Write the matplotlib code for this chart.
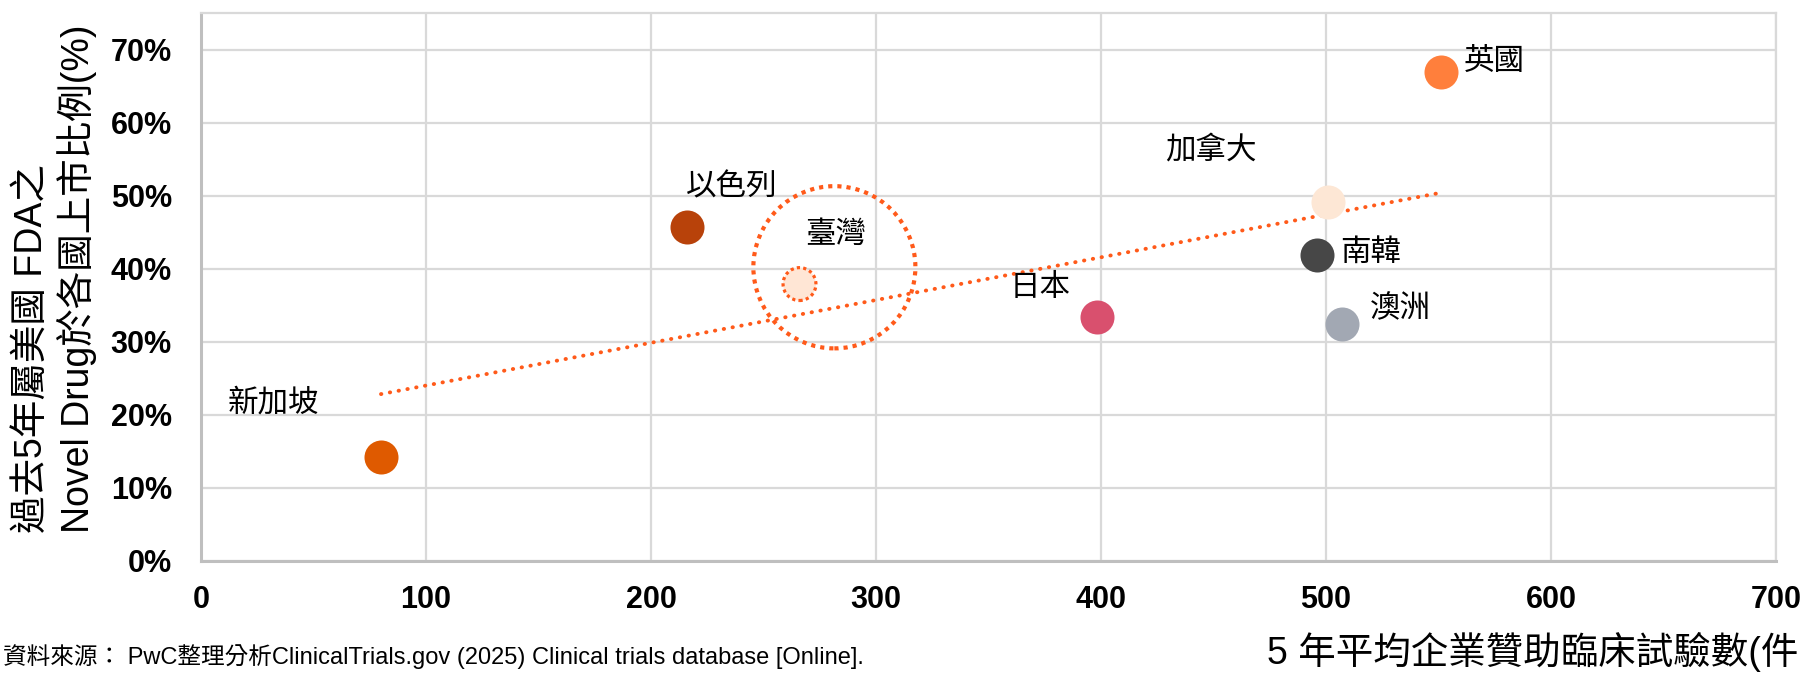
import numpy as np
import matplotlib.pyplot as plt
from matplotlib.patches import Ellipse
from matplotlib.ticker import FuncFormatter

# 資料：5年平均企業贊助臨床試驗數 vs Novel Drug 上市比例
countries = ['新加坡', '以色列', '臺灣', '日本', '加拿大', '南韓', '澳洲', '英國']
trials = [80, 216, 266, 398, 501, 496, 507, 551]
ratio = [14.2, 45.7, 37.9, 33.4, 49.2, 41.9, 32.5, 66.9]
colors = ['#DF5A00', '#B8420A', '#FFE6D5', '#D9506E', '#FDE7D5', '#474747', '#A2A8B3', '#FF7F3C']

# 標籤位置
label_x = [32, 236, 282, 373, 449, 520, 533, 575]
label_y = [21.6, 51.2, 44.7, 37.5, 56.2, 42.2, 34.5, 68.4]

# 臺灣外圈
ring_center = (281.5, 40.2)
ring_w, ring_h = 72, 22.2

xticks = [0, 100, 200, 300, 400, 500, 600, 700]
yticks = [0, 10, 20, 30, 40, 50, 60, 70]

CJK = ['Noto Sans CJK TC', 'DejaVu Sans']
MIX = ['Liberation Sans', 'Noto Sans CJK TC']
ORANGE = '#FF5A1A'

fig = plt.figure(figsize=(18, 6.73), dpi=100)
ax = fig.add_axes([201/1800, 1-561/673, (1776-201)/1800, (561-13)/673])

ax.set_xlim(0, 700)
ax.set_ylim(0, 75)
ax.set_xticks(xticks)
ax.set_yticks(yticks)
ax.yaxis.set_major_formatter(FuncFormatter(lambda v, p: f'{int(v)}%'))
ax.grid(True, color='#D9D9D9', linewidth=1.6, zorder=0)
ax.set_axisbelow(True)
for s in ['top', 'right']:
    ax.spines[s].set_color('#D9D9D9')
    ax.spines[s].set_linewidth(1.6)
for s in ['left', 'bottom']:
    ax.spines[s].set_color('#BFBFBF')
    ax.spines[s].set_linewidth(2.2)
ax.tick_params(length=0)
ax.tick_params(axis='y', pad=21)
ax.tick_params(axis='x', pad=17)
for lab in ax.get_xticklabels() + ax.get_yticklabels():
    lab.set_fontfamily('Liberation Sans')
    lab.set_fontweight('bold')
    lab.set_fontsize(22)

# 趨勢線 (線性回歸)
m, b = np.polyfit(trials, ratio, 1)
tx = np.array([min(trials), max(trials)])
ax.plot(tx, m*tx + b, color=ORANGE, linewidth=2.8, linestyle=(0, (0.1, 2.2)),
        dash_capstyle='round', zorder=2)

# 點
for i, c in enumerate(countries):
    if c == '臺灣':
        ax.scatter(trials[i], ratio[i], s=560, color=colors[i], edgecolors=ORANGE,
                   linewidths=2.3, linestyle=(0, (1, 1)), zorder=4)
    else:
        ax.scatter(trials[i], ratio[i], s=600, color=colors[i], linewidths=0, zorder=4)
    ax.text(label_x[i], label_y[i], c, fontsize=22, family=CJK,
            ha='center', va='center', zorder=5)

ax.add_patch(Ellipse(ring_center, ring_w, ring_h, fill=False, edgecolor=ORANGE,
                     linewidth=3, linestyle=(0, (1, 1.2)), zorder=3))

# 座標軸標題
fig.text(56/1800, 1-533/673, '過去5年屬美國 FDA之\nNovel Drug於各國上市比例(%)',
         rotation=90, ha='center', va='bottom', multialignment='left',
         fontsize=27, family=MIX, linespacing=1.2)
fig.text(1798/1800, 1-652/673, '5 年平均企業贊助臨床試驗數(件',
         ha='right', va='center', fontsize=27, family=MIX)
fig.text(3/1800, 1-657/673,
         '資料來源： PwC整理分析ClinicalTrials.gov (2025) Clinical trials database [Online].',
         ha='left', va='center', fontsize=17, family=MIX)

fig.savefig('out.png', dpi=100)
